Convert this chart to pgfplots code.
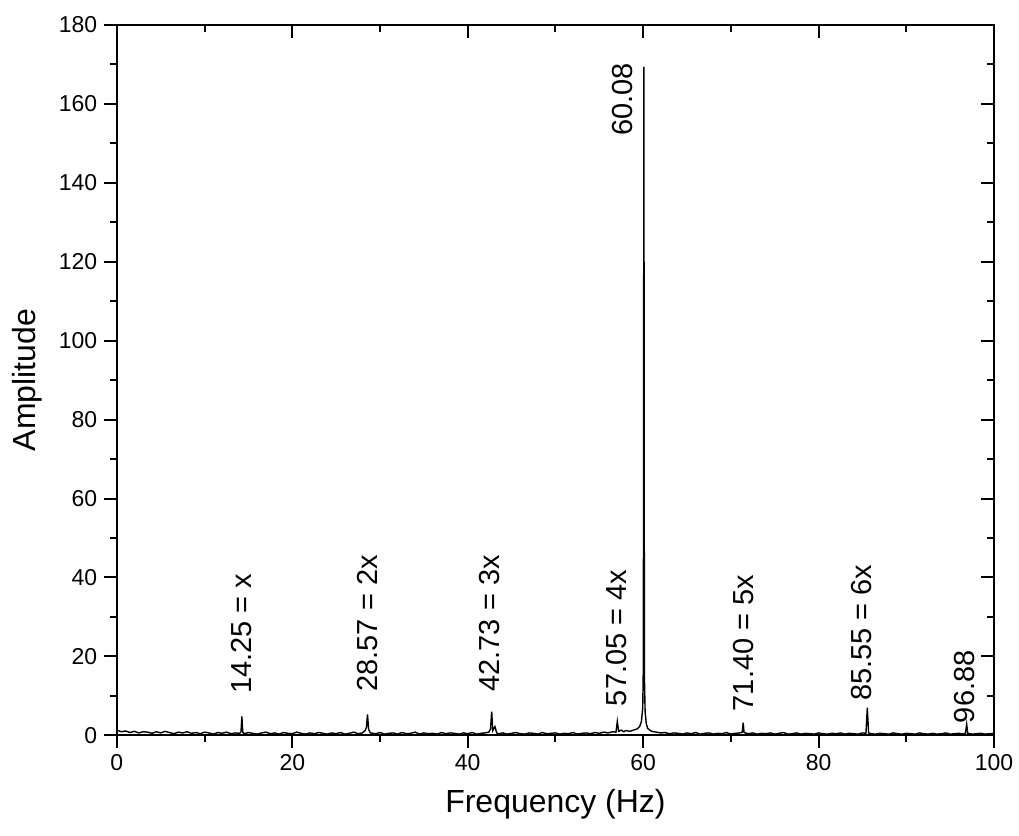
\documentclass[border=0pt]{standalone}
\usepackage{fontspec}
\setmainfont{Liberation Sans}
\usepackage{pgfplots}
\pgfplotsset{compat=1.18}

\pgfplotsset{
  frame/.style={
    scale only axis, width=439pt, height=355.5pt,
    xmin=0, xmax=100, ymin=0, ymax=180,
    xtick={0,20,...,100}, ytick={0,20,...,180},
    minor x tick num=1, minor y tick num=1,
    major tick length=6.3pt, minor tick length=3.3pt,
    every tick/.style={black, line width=1pt},
    axis line style={line width=1pt},
  }
}

\begin{document}
\begin{tikzpicture}
% top and right: inward ticks, no labels
\begin{axis}[frame, tick align=inside, xtick pos=right, ytick pos=right,
  xticklabels={}, yticklabels={}]
\end{axis}

\begin{axis}[frame, tick align=outside, xtick pos=left, ytick pos=left,
  clip mode=individual,
  /pgf/number format/assume math mode=true,
  tick label style={font=\fontsize{11.5}{14}\selectfont},
  label style={font=\fontsize{16}{19}\selectfont},
  xlabel={Frequency (Hz)}, ylabel={Amplitude},
  xlabel style={at={(axis description cs:0.5,-0.097)}, anchor=center},
  ylabel style={at={(axis description cs:-0.1025,0.5)}, anchor=center},
]
\addplot[black, line width=0.7pt] coordinates {
(0,1.3)(0.5,0.9)(1,1.1)(1.5,0.7)(2,1.0)(2.5,0.6)(3,0.9)(3.5,0.8)(4,0.5)(4.5,0.9)
(5,0.6)(5.5,1.0)(6,0.7)(6.5,0.4)(7,0.8)(7.5,0.6)(8,0.9)(8.5,0.5)(9,0.7)(9.5,0.4)
(10,0.8)(10.5,0.6)(11,0.3)(11.5,0.7)(12,0.5)(12.5,0.8)(13,0.4)(13.5,0.6)(14,0.5)
(14.15,0.9)(14.25,4.8)(14.35,0.8)(14.5,0.4)(15,0.7)(15.5,0.5)(16,0.3)(16.5,0.6)
(17,0.8)(17.5,0.4)(18,0.6)(18.5,0.3)(19,0.7)(19.5,0.5)(20,0.4)(20.5,0.8)(21,0.5)
(21.5,0.3)(22,0.6)(22.5,0.4)(23,0.7)(23.5,0.5)(24,0.3)(24.5,0.6)(25,0.4)(25.5,0.7)
(26,0.3)(26.5,0.5)(27,0.8)(27.5,0.4)(28,0.6)(28.3,1.2)(28.45,2.0)(28.57,5.3)
(28.7,1.5)(28.9,0.6)(29.5,0.4)(30,0.7)(30.5,0.3)(31,0.5)(31.5,0.6)(32,0.3)(32.5,0.7)
(33,0.4)(33.5,0.5)(34,0.8)(34.5,0.3)(35,0.6)(35.5,0.4)(36,0.5)(36.5,0.3)(37,0.7)
(37.5,0.4)(38,0.6)(38.5,0.5)(39,0.3)(39.5,0.6)(40,0.4)(40.5,0.7)(41,0.3)(41.5,0.5)
(42,0.6)(42.4,0.8)(42.6,1.6)(42.73,6.0)(42.85,1.2)(43.1,2.2)(43.3,0.6)(43.5,0.4)
(44,0.6)(44.5,0.3)(45,0.5)(45.5,0.7)(46,0.4)(46.5,0.3)(47,0.6)(47.5,0.5)(48,0.3)
(48.5,0.7)(49,0.4)(49.5,0.5)(50,0.6)(50.5,0.3)(51,0.5)(51.5,0.4)(52,0.7)(52.5,0.3)
(53,0.5)(53.5,0.6)(54,0.4)(54.5,0.7)(55,0.5)(55.5,0.8)(56,0.6)(56.5,0.9)(56.9,0.8)
(57.05,3.5)(57.2,1.0)(57.5,1.3)(57.8,0.9)(58,1.2)(58.5,1.0)(59,1.4)(59.3,1.6)
(59.6,2.2)(59.8,3.5)(59.95,7)(60.02,18)(60.08,169.4)(60.14,15)(60.22,6)(60.35,3)
(60.5,1.8)(60.8,1.2)(61,1.0)(61.5,0.8)(62,0.6)(62.5,0.7)(63,0.4)(63.5,0.6)(64,0.5)
(64.5,0.3)(65,0.6)(65.5,0.4)(66,0.7)(66.5,0.3)(67,0.5)(67.5,0.6)(68,0.3)(68.5,0.5)
(69,0.4)(69.5,0.7)(70,0.3)(70.5,0.5)(71,0.6)(71.3,0.8)(71.4,3.2)(71.5,0.7)(72,0.4)
(72.5,0.6)(73,0.3)(73.5,0.5)(74,0.4)(74.5,0.6)(75,0.3)(75.5,0.5)(76,0.7)(76.5,0.3)
(77,0.4)(77.5,0.6)(78,0.3)(78.5,0.5)(79,0.4)(79.5,0.3)(80,0.6)(80.5,0.4)(81,0.3)
(81.5,0.5)(82,0.4)(82.5,0.6)(83,0.3)(83.5,0.5)(84,0.4)(84.5,0.3)(85,0.6)(85.4,0.5)
(85.55,7.0)(85.7,0.6)(86,0.4)(86.5,0.3)(87,0.5)(87.5,0.4)(88,0.3)(88.5,0.6)(89,0.4)
(89.5,0.3)(90,0.5)(90.5,0.4)(91,0.3)(91.5,0.6)(92,0.4)(92.5,0.3)(93,0.5)(93.5,0.3)
(94,0.4)(94.5,0.6)(95,0.3)(95.5,0.4)(96,0.5)(96.5,0.3)(96.75,0.6)(96.88,2.8)(97,0.5)
(97.5,0.3)(98,0.4)(98.5,0.5)(99,0.3)(99.5,0.4)(100,0.5)
};
% peak annotations, reading bottom to top
\begin{scope}[every node/.style={rotate=90, anchor=west, inner sep=0pt,
    font=\fontsize{14.5}{17}\selectfont}]
\node at (axis cs:14.2,10.4) {14.25 = x};
\node at (axis cs:28.6,11) {28.57 = 2x};
\node at (axis cs:42.5,11) {42.73 = 3x};
\node at (axis cs:57.0,7.3) {57.05 = 4x};
\node at (axis cs:71.4,6) {71.40 = 5x};
\node at (axis cs:84.9,8.6) {85.55 = 6x};
\node at (axis cs:96.6,3) {96.88};
\node[anchor=east] at (axis cs:57.6,170.4) {60.08};
\end{scope}
\end{axis}
\pgfresetboundingbox
\path[use as bounding box] (-58.5pt,-50pt) rectangle (451.5pt,368pt);
\end{tikzpicture}
\end{document}
